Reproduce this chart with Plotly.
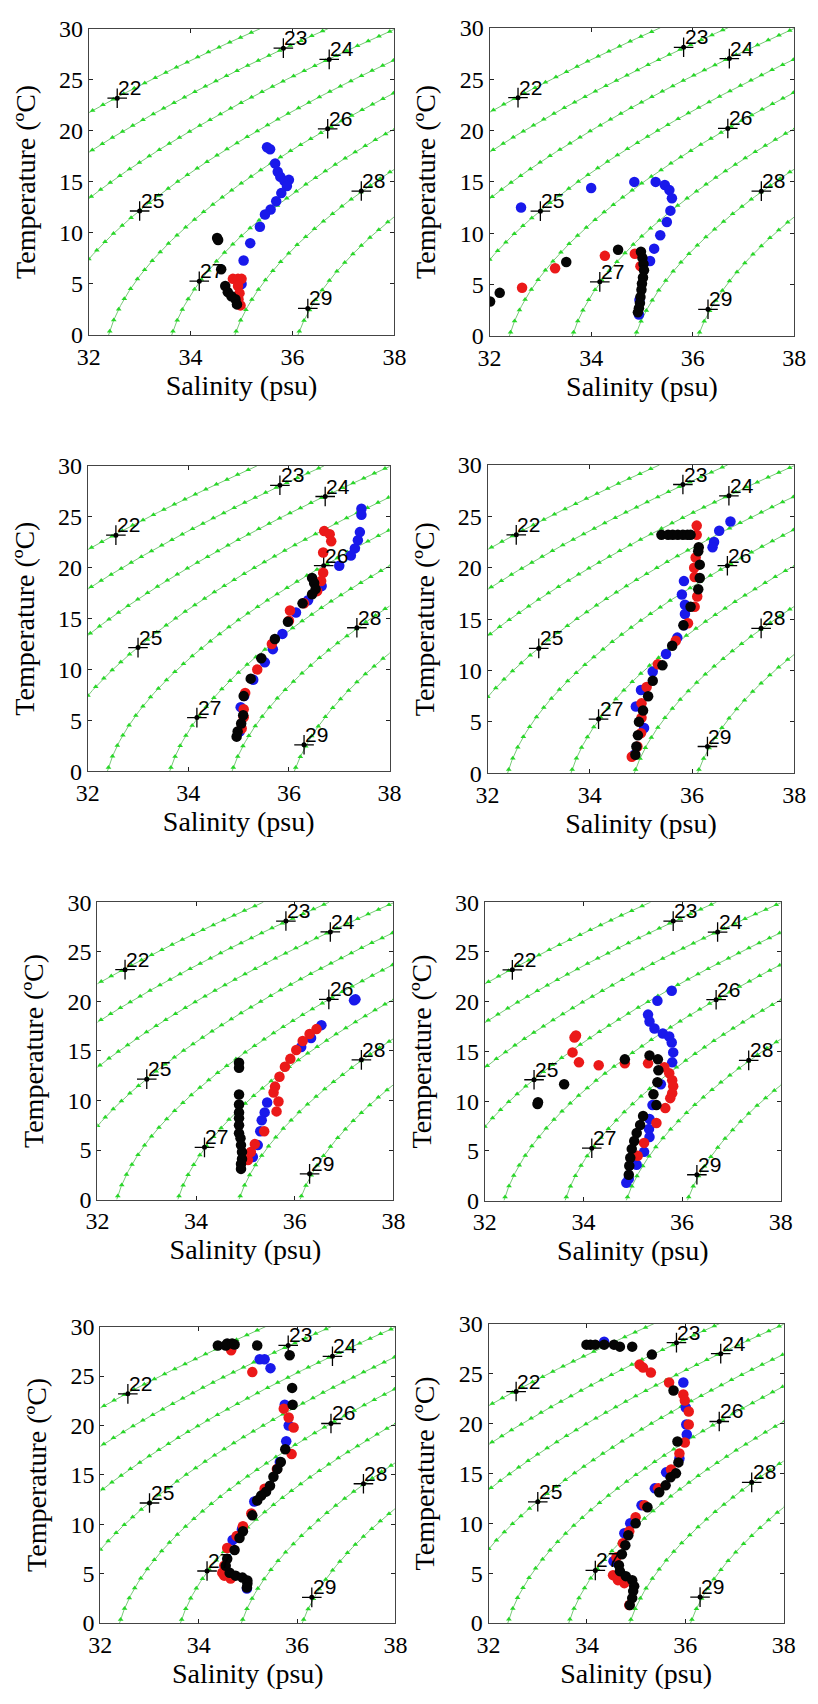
import numpy as np
import plotly.graph_objects as go

# ---------------- data ----------------
p1_blue_S = [35.50, 35.56, 35.66, 35.71, 35.76, 35.84, 35.93, 35.89, 35.78, 35.68, 35.57, 35.46, 35.36, 35.17, 35.04, 35.00]
p1_blue_T = [18.4, 18.2, 16.8, 16.0, 15.5, 15.1, 15.2, 14.6, 13.9, 13.1, 12.3, 11.8, 10.6, 9.0, 7.3, 5.0]
p1_red_S = [34.83, 34.93, 35.00, 34.93, 34.96, 34.94, 34.98]
p1_red_T = [5.5, 5.5, 5.5, 4.8, 4.1, 3.5, 2.9]
p1_black_S = [34.52, 34.54, 34.60, 34.68, 34.73, 34.80, 34.88, 34.91]
p1_black_T = [9.5, 9.3, 6.45, 4.8, 4.2, 3.8, 3.5, 3.0]

p2_blue_S = [32.62, 34.00, 34.85, 35.27, 35.45, 35.54, 35.59, 35.56, 35.49, 35.36, 35.24, 35.16, 34.94, 34.95]
p2_blue_T = [12.5, 14.4, 15.0, 15.0, 14.7, 14.2, 13.4, 12.2, 11.1, 9.8, 8.5, 7.3, 2.1, 3.5]
p2_red_S = [32.64, 33.29, 34.27, 34.86, 34.97]
p2_red_T = [4.7, 6.6, 7.8, 8.0, 6.8]
p2_black_S = [32.01, 32.20, 33.51, 34.53, 34.98, 35.01, 35.03, 35.04, 35.02, 35.00, 34.99, 34.97, 34.96, 34.94, 34.92]
p2_black_T = [3.35, 4.2, 7.2, 8.4, 8.2, 7.6, 7.0, 6.4, 5.7, 5.1, 4.5, 3.8, 3.2, 2.7, 2.3]

p3_blue_S = [37.44, 37.44, 37.41, 37.37, 37.31, 37.23, 37.00, 36.65, 36.38, 36.14, 35.87, 35.68, 35.52, 35.29, 35.11, 35.04, 35.02]
p3_blue_T = [25.8, 25.2, 23.5, 22.7, 21.9, 21.2, 20.2, 18.2, 16.8, 15.6, 13.5, 12.0, 10.7, 9.0, 7.4, 6.3, 3.9]
p3_red_S = [36.70, 36.81, 36.84, 36.68, 36.68, 36.64, 36.56, 36.30, 36.02, 36.00, 35.66, 35.37, 35.13, 35.10, 35.10, 35.06]
p3_red_T = [23.6, 23.3, 22.6, 21.5, 19.5, 18.7, 17.7, 16.5, 15.8, 14.8, 12.5, 10.0, 7.7, 6.1, 5.3, 4.2]
p3_black_S = [36.46, 36.50, 36.53, 36.46, 36.27, 35.98, 35.72, 35.45, 35.24, 35.10, 35.09, 35.05, 34.98, 34.96]
p3_black_T = [19.0, 18.5, 17.9, 17.4, 16.5, 14.7, 13.0, 11.1, 9.1, 7.4, 5.5, 4.7, 3.9, 3.4]

p4_blue_S = [36.75, 36.53, 36.43, 36.40, 35.84, 35.80, 35.86, 35.86, 35.84, 35.71, 35.49, 35.23, 35.00, 34.90, 35.06, 34.87]
p4_blue_T = [24.5, 23.6, 22.5, 22.0, 18.7, 17.4, 16.4, 15.5, 14.4, 13.2, 11.6, 9.9, 8.1, 6.5, 4.4, 1.8]
p4_red_S = [36.09, 36.09, 36.07, 36.04, 36.05, 36.10, 36.05, 35.92, 35.68, 35.33, 35.11, 35.01, 35.01, 35.00, 34.93, 34.82]
p4_red_T = [24.1, 23.2, 21.0, 20.0, 19.1, 17.2, 16.2, 14.6, 12.9, 10.6, 8.4, 6.8, 5.4, 3.9, 2.6, 1.6]
p4_black_S = [35.40, 35.53, 35.62, 35.72, 35.82, 35.91, 35.97, 36.13, 36.12, 36.15, 36.15, 36.12, 35.97, 35.83, 35.61, 35.42,
              35.23, 35.14, 35.04, 34.96, 34.94, 34.91, 34.89]
p4_black_T = [23.2, 23.2, 23.2, 23.2, 23.2, 23.2, 23.2, 22.0, 21.6, 20.3, 19.0, 17.9, 16.2, 14.4, 12.4, 10.5,
              9.0, 7.5, 6.1, 5.0, 3.7, 2.6, 1.8]

p5_blue_S = [37.20, 37.23, 36.54, 36.33, 36.13, 35.44, 35.39, 35.33, 35.30, 35.25, 35.15]
p5_blue_T = [20.1, 20.2, 17.6, 16.3, 15.4, 9.8, 8.8, 8.0, 6.9, 5.5, 4.3]
p5_red_S = [36.44, 36.30, 36.16, 36.03, 35.91, 35.80, 35.69, 35.60, 35.57, 35.67, 35.63, 35.38, 35.19, 35.11, 35.05]
p5_red_T = [17.2, 16.7, 16.0, 15.1, 14.2, 13.4, 12.4, 11.4, 10.8, 9.9, 8.9, 6.9, 5.6, 4.8, 4.0]
p5_black_S = [34.87, 34.87, 34.87, 34.87, 34.87, 34.87, 34.87, 34.87, 34.90, 34.91, 34.93, 34.93, 34.91, 34.91]
p5_black_T = [13.8, 13.3, 10.6, 9.6, 8.8, 8.2, 7.5, 6.7, 6.2, 5.5, 4.8, 4.1, 3.6, 3.1]

p6_blue_S = [35.79, 35.50, 35.31, 35.34, 35.44, 35.61, 35.74, 35.79, 35.82, 35.80, 35.57, 35.40, 35.34, 35.33, 35.34,
             35.23, 35.08, 34.92, 34.87]
p6_blue_T = [21.1, 20.1, 18.7, 18.0, 17.3, 16.8, 16.5, 15.9, 14.9, 13.9, 11.7, 9.6, 8.2, 7.2, 6.4, 4.9, 3.6, 2.2, 1.8]
p6_red_S = [33.82, 33.85, 33.78, 33.91, 34.31, 34.84, 35.31, 35.64, 35.74, 35.80, 35.82, 35.80, 35.76, 35.66, 35.48, 35.23, 35.10]
p6_red_T = [16.4, 16.6, 14.9, 13.9, 13.6, 13.8, 13.8, 13.4, 12.8, 12.1, 11.5, 10.8, 10.3, 9.3, 7.8, 5.8, 4.5]
p6_black_S = [33.07, 33.08, 33.61, 34.84, 35.34, 35.51, 35.52, 35.50, 35.42, 35.48, 35.21, 35.15, 35.08, 35.03, 34.98,
              34.95, 34.93, 34.92]
p6_black_T = [9.7, 9.9, 11.7, 14.2, 14.6, 14.2, 13.1, 11.9, 10.7, 9.6, 8.5, 7.6, 6.8, 6.0, 5.2, 4.3, 3.5, 2.6]

p7_blue_S = [35.24, 35.34, 35.46, 35.75, 35.83, 35.78, 35.65, 35.13, 34.88, 34.69, 34.98]
p7_blue_T = [26.7, 26.7, 25.8, 22.1, 20.0, 18.4, 16.3, 12.3, 9.5, 8.4, 3.5]
p7_red_S = [34.66, 35.09, 35.73, 35.83, 35.93, 35.89, 35.59, 35.34, 35.07, 34.90, 34.77, 34.58, 34.52, 34.48, 34.52, 34.65]
p7_red_T = [27.6, 25.4, 21.7, 20.8, 19.8, 17.1, 15.6, 13.6, 11.1, 9.8, 8.8, 7.6, 5.8, 5.1, 4.8, 4.5]
p7_black_S = [34.39, 34.55, 34.58, 34.68, 34.73, 35.19, 35.85, 35.90, 35.91, 35.76, 35.67, 35.60, 35.52, 35.45, 35.37,
              35.27, 35.19, 35.09, 34.90, 34.83, 34.73, 34.58, 34.55, 34.63, 34.75, 34.89, 34.99, 34.99, 34.98]
p7_black_T = [28.1, 28.1, 28.3, 28.3, 28.2, 28.1, 27.1, 23.8, 22.1, 17.6, 16.3, 15.6, 14.8, 13.9, 13.3,
              12.9, 12.4, 10.9, 9.3, 8.6, 7.4, 6.5, 5.8, 5.1, 4.8, 4.6, 4.3, 4.0, 3.6]

p8_blue_S = [34.35, 35.96, 36.01, 36.02, 36.03, 35.88, 35.61, 35.38, 35.11, 34.88, 34.76, 34.54]
p8_blue_T = [28.2, 24.1, 21.6, 19.9, 18.9, 16.5, 15.1, 13.5, 11.8, 10.0, 9.0, 6.2]
p8_red_S = [35.07, 35.14, 35.30, 35.67, 35.96, 35.99, 36.07, 36.07, 35.99, 35.88, 35.71, 35.45, 35.17, 34.99, 34.86,
            34.73, 34.60, 34.53, 34.63, 34.76, 34.86]
p8_red_T = [25.9, 25.6, 25.1, 24.1, 22.9, 22.3, 21.2, 19.9, 18.1, 17.0, 15.4, 13.5, 11.8, 10.6, 9.2,
            8.0, 6.6, 4.8, 4.3, 4.0, 1.8]
p8_black_S = [33.99, 34.07, 34.17, 34.35, 34.55, 34.67, 34.92, 35.32, 35.76, 35.84, 35.86, 35.81, 35.70, 35.60, 35.47,
              35.23, 34.99, 34.84, 34.78, 34.71, 34.65, 34.67, 34.79, 34.92, 34.96, 34.94, 34.92, 34.87]
p8_black_T = [27.9, 27.9, 27.9, 27.9, 27.9, 27.7, 27.7, 26.9, 23.3, 18.2, 16.1, 15.0, 14.6, 13.8, 13.1,
              11.6, 10.0, 8.8, 7.8, 6.9, 5.8, 5.2, 4.7, 4.3, 3.7, 3.2, 2.5, 1.8]

# isopycnal levels and contour label positions
sigma_levels = [22, 23, 24, 25, 26, 27, 28, 29]
label_S = [32.56, 35.82, 36.72, 33.00, 36.69, 34.17, 37.35, 36.30]
label_T = [23.2, 28.1, 27.0, 12.15, 20.2, 5.27, 14.1, 2.6]
label_text = ["22", "23", "24", "25", "26", "27", "28", "29"]

x_ticks = [32, 34, 36, 38]
y_ticks = [0, 5, 10, 15, 20, 25, 30]
x_title = "Salinity (psu)"
y_title = "Temperature (\u00baC)"

panels = [
    (p1_blue_S, p1_blue_T, p1_red_S, p1_red_T, p1_black_S, p1_black_T),
    (p2_blue_S, p2_blue_T, p2_red_S, p2_red_T, p2_black_S, p2_black_T),
    (p3_blue_S, p3_blue_T, p3_red_S, p3_red_T, p3_black_S, p3_black_T),
    (p4_blue_S, p4_blue_T, p4_red_S, p4_red_T, p4_black_S, p4_black_T),
    (p5_blue_S, p5_blue_T, p5_red_S, p5_red_T, p5_black_S, p5_black_T),
    (p6_blue_S, p6_blue_T, p6_red_S, p6_red_T, p6_black_S, p6_black_T),
    (p7_blue_S, p7_blue_T, p7_red_S, p7_red_T, p7_black_S, p7_black_T),
    (p8_blue_S, p8_blue_T, p8_red_S, p8_red_T, p8_black_S, p8_black_T),
]

# ---------------- layout geometry (pixels) ----------------
W, H = 818, 1704
boxes = [  # left, right, top, bottom
    (79, 394, 16, 327), (492, 806, 15, 328),
    (78, 389, 460, 770), (490, 806, 459, 772),
    (88, 393, 903, 1205), (487, 792, 903, 1206),
    (91, 395, 1334, 1635), (491, 795, 1331, 1635),
]


def sigma_t(S, T):
    rw = (999.842594 + 6.793952e-2 * T - 9.095290e-3 * T**2 + 1.001685e-4 * T**3
          - 1.120083e-6 * T**4 + 6.536332e-9 * T**5)
    A = 0.824493 - 4.0899e-3 * T + 7.6438e-5 * T**2 - 8.2467e-7 * T**3 + 5.3875e-9 * T**4
    B = -5.72466e-3 + 1.0227e-4 * T - 1.6546e-6 * T**2
    C = 4.8314e-4
    return rw + A * S + B * S**1.5 + C * S**2 - 1000.0


def isopycnal(sig):
    T = np.linspace(0, 30, 601)
    lo = np.full_like(T, 20.0)
    hi = np.full_like(T, 45.0)
    for _ in range(60):
        mid = 0.5 * (lo + hi)
        f = sigma_t(mid, T) - sig
        hi = np.where(f > 0, mid, hi)
        lo = np.where(f > 0, lo, mid)
    S = 0.5 * (lo + hi)
    keep = (S >= 31.8) & (S <= 38.2)
    return S[keep], T[keep]


def resample(S, T, step_px=12.0):
    px = S * 52.0
    py = T * 10.3
    d = np.concatenate([[0], np.cumsum(np.hypot(np.diff(px), np.diff(py)))])
    targets = np.arange(4, d[-1], step_px)
    return np.interp(targets, d, S), np.interp(targets, d, T)


fig = go.Figure()
layout = dict(width=W, height=H, margin=dict(l=0, r=0, t=0, b=0),
              paper_bgcolor="white", plot_bgcolor="white", showlegend=False,
              font=dict(family="Liberation Serif", color="black"))
annotations = []

serif = "Liberation Serif"
sans = "Liberation Sans"

colors = {"blue": "rgb(25,25,235)", "red": "rgb(235,25,25)", "black": "rgb(5,5,5)"}

for i, (box, pdata) in enumerate(zip(boxes, panels)):
    n = i + 1
    xa = "x" if n == 1 else f"x{n}"
    ya = "y" if n == 1 else f"y{n}"
    L, R, Tp, B = box
    axis_common = dict(showline=True, linecolor="#444", linewidth=1, mirror="ticks",
                       ticks="inside", ticklen=4, tickcolor="#222", showgrid=False,
                       zeroline=False, tickfont=dict(family=serif, size=24, color="black"))
    layout["xaxis" if n == 1 else f"xaxis{n}"] = dict(
        domain=[L / W, R / W], range=[32, 38], tickvals=x_ticks, anchor=ya,
        title=dict(text=x_title, font=dict(family=serif, size=28, color="black"), standoff=3),
        **axis_common)
    layout["yaxis" if n == 1 else f"yaxis{n}"] = dict(
        domain=[1 - B / H, 1 - Tp / H], range=[0, 30], tickvals=y_ticks, anchor=xa,
        title=dict(text=y_title, font=dict(family=serif, size=28, color="black"), standoff=15),
        **axis_common)

    # isopycnals
    for sig in sigma_levels:
        S, T = isopycnal(sig)
        fig.add_trace(go.Scatter(x=S, y=T, mode="lines", xaxis=xa, yaxis=ya,
                                 line=dict(color="rgb(120,200,120)", width=1), hoverinfo="skip"))
        Sm, Tm = resample(S, T)
        fig.add_trace(go.Scatter(x=Sm, y=Tm, mode="markers", xaxis=xa, yaxis=ya,
                                 marker=dict(symbol="triangle-up", size=5, color="rgb(40,215,40)"),
                                 hoverinfo="skip"))

    # contour labels
    fig.add_trace(go.Scatter(x=label_S, y=label_T, mode="markers", xaxis=xa, yaxis=ya,
                             marker=dict(symbol="cross-thin", size=14, line=dict(color="black", width=1.3)),
                             hoverinfo="skip"))
    fig.add_trace(go.Scatter(x=label_S, y=label_T, mode="markers", xaxis=xa, yaxis=ya,
                             marker=dict(symbol="circle", size=5, color="black"), hoverinfo="skip"))
    for s, t, txt in zip(label_S, label_T, label_text):
        annotations.append(dict(x=s, y=t, xref=xa, yref=ya, text=txt, showarrow=False,
                                xanchor="left", yanchor="bottom", xshift=-1, yshift=-3,
                                font=dict(family=sans, size=21, color="black")))

    bS, bT, rS, rT, kS, kT = pdata
    for (sx, ty, c) in [(bS, bT, "blue"), (rS, rT, "red"), (kS, kT, "black")]:
        fig.add_trace(go.Scatter(x=sx, y=ty, mode="markers", xaxis=xa, yaxis=ya,
                                 marker=dict(size=10.5, color=colors[c], line=dict(width=0)),
                                 hoverinfo="skip"))

layout["annotations"] = annotations
fig.update_layout(**layout)
fig.write_html("out.html")
